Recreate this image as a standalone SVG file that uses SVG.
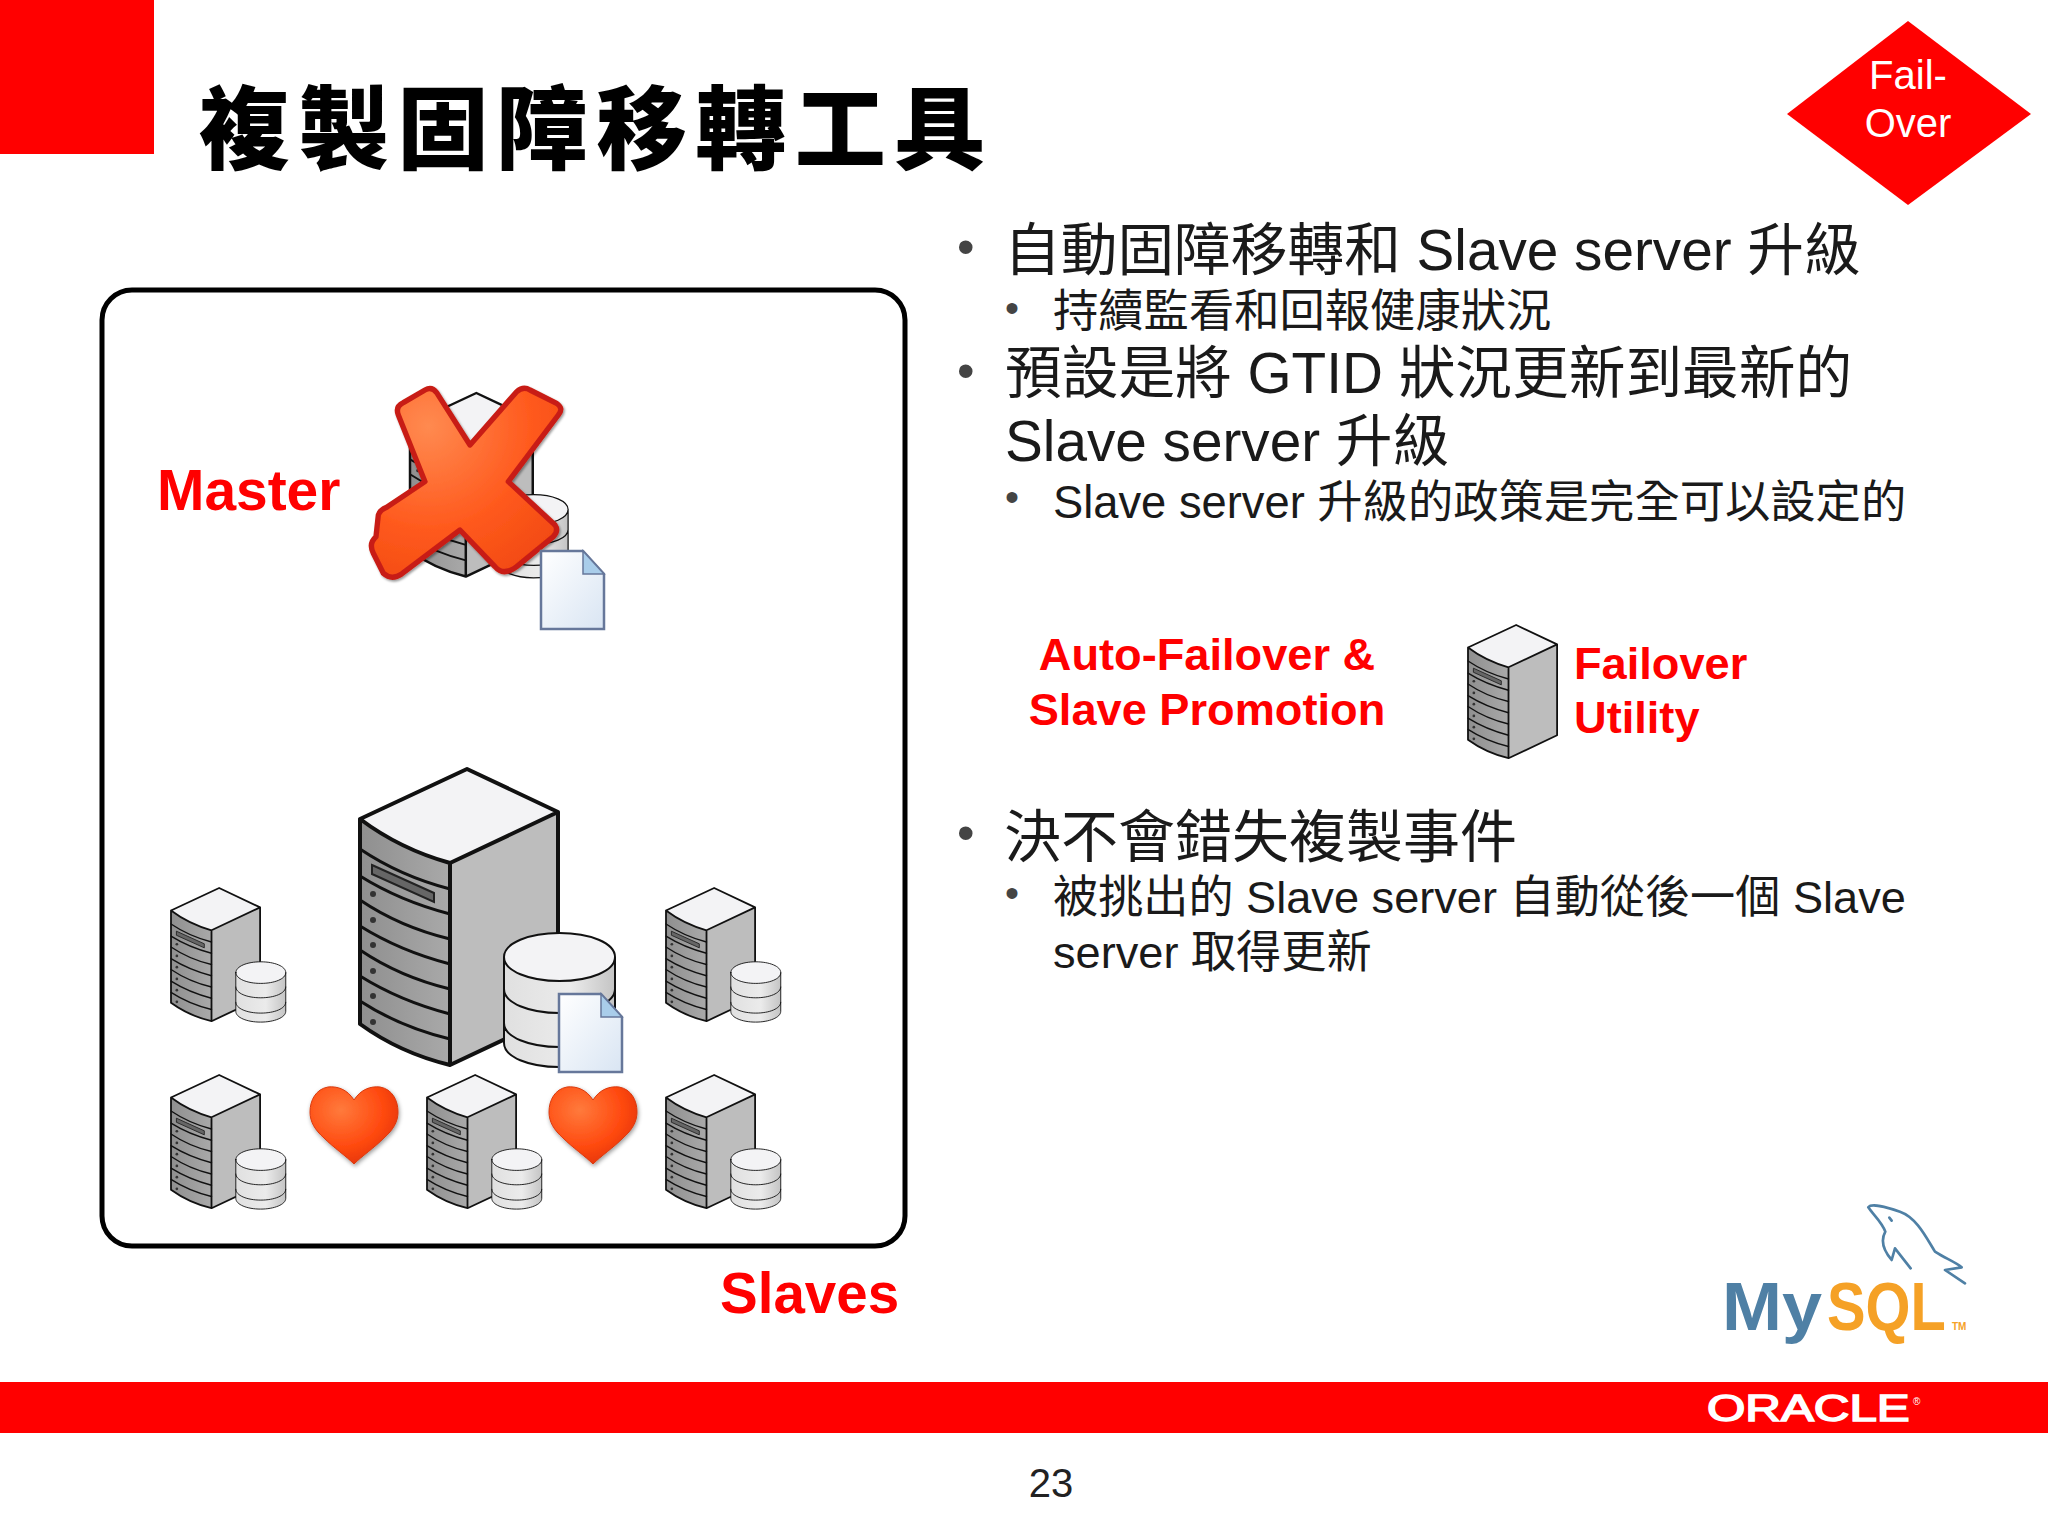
<svg xmlns="http://www.w3.org/2000/svg" width="2048" height="1536" viewBox="0 0 2048 1536">
<style>
text{font-family:"Liberation Sans","Noto Sans CJK TC",sans-serif}
.title{font-family:"Noto Sans CJK TC",sans-serif;font-weight:900;font-size:91px;letter-spacing:8.300px;fill:#000}
.b1{font-size:56.700px;fill:#1a1a1a}
.b2{font-size:45.300px;fill:#1a1a1a}
.d1{font-size:50px;fill:#444}
.d2{font-size:40px;fill:#444}
.red{font-weight:700;fill:#f00}
.blk{fill:none;stroke:#111;stroke-linejoin:round;stroke-linecap:round}
</style>
<defs>
<linearGradient id="gf" x1="0" x2="1" y1="0" y2="0"><stop offset="0" stop-color="#8f8f8f"/><stop offset="1" stop-color="#a9a9a9"/></linearGradient>
<linearGradient id="gd" x1="0" x2="1" y1="0" y2="0"><stop offset="0" stop-color="#e0e0e0"/><stop offset=".6" stop-color="#ebebeb"/><stop offset="1" stop-color="#c4c4c4"/></linearGradient>
<linearGradient id="gp" x1="0" x2="1" y1="0" y2="1"><stop offset="0" stop-color="#fff"/><stop offset="1" stop-color="#d9e5f3"/></linearGradient>
<radialGradient id="gh" cx=".35" cy=".3" r=".8"><stop offset="0" stop-color="#ff7a3c"/><stop offset=".6" stop-color="#ff4a10"/><stop offset="1" stop-color="#e03005"/></radialGradient>
<radialGradient id="gx" cx=".3" cy=".2" r=".9"><stop offset="0" stop-color="#ff8a50"/><stop offset=".6" stop-color="#ff5a1e"/><stop offset="1" stop-color="#f24a10"/></radialGradient>
<filter id="sh" x="-20%" y="-20%" width="150%" height="150%"><feDropShadow dx="4" dy="5" stdDeviation="3" flood-color="#000" flood-opacity=".4"/></filter>
<filter id="sh2" x="-20%" y="-20%" width="140%" height="140%"><feDropShadow dx="1" dy="2" stdDeviation="2" flood-color="#000" flood-opacity=".4"/></filter>
<g id="srv">
<path d="M90 94L198 43V245L90 296Z" fill="#bdbdbd"/>
<path d="M0 50Q40 80 90 94V296Q40 284 0 255Z" fill="url(#gf)"/>
<path d="M107 0L0 50Q40 80 90 94L198 43Z" fill="#f3f3f5"/>
<path d="M12 96L74 124V133L12 105Z" fill="#666" stroke="#222" stroke-width="2"/>
<g class="blk" stroke-width="3">
<path d="M0 80Q40 107 90 120M0 107Q40 132 90 145M0 131Q40 158 90 170M0 157Q40 182 90 195M0 181Q40 208 90 220M0 207Q40 232 90 245M0 232Q40 258 90 270"/>
</g>
<g fill="#333"><circle cx="13" cy="125" r="3"/><circle cx="13" cy="151" r="3"/><circle cx="13" cy="176" r="3"/><circle cx="13" cy="202" r="3"/><circle cx="13" cy="227" r="3"/><circle cx="13" cy="253" r="3"/></g>
<path class="blk" stroke-width="4" d="M107 0L0 50V255Q40 284 90 296L198 245V43ZM0 50Q40 80 90 94L198 43M90 94V296"/>
</g>
<g id="db">
<path d="M0 24V110C0 124 25 134 55 134S111 124 111 110V24Z" fill="url(#gd)"/>
<ellipse cx="55.500" cy="24" rx="55.500" ry="24" fill="#f3f3f5"/>
<path class="blk" stroke-width="2" d="M0 24V110C0 124 25 134 55 134S111 124 111 110V24M0 24C0 10 25 0 55.500 0S111 10 111 24S86 48 55.500 48S0 38 0 24ZM0 56C0 70 25 80 55.500 80S111 70 111 56M0 90C0 104 25 114 55.500 114S111 104 111 90"/>
</g>
<g id="doc">
<path d="M1 1H43L64 24V79H1Z" fill="url(#gp)" stroke="#66779a" stroke-width="2.500"/>
<path d="M43 1V24H64Z" fill="#a9cdea" stroke="#66779a" stroke-width="1.500"/>
</g>
<g id="ss"><use href="#srv"/><use href="#db" transform="translate(144 164)"/></g>
<path id="heart" d="M44 14C37 3 27 0 18 1C6 3 0 14 0 26C0 36 5 44 14 52C24 62 36 70 44 78C52 70 64 62 74 52C83 44 88 36 88 26C88 14 82 3 70 1C61 0 51 3 44 14Z" fill="url(#gh)" stroke="#d83a10" stroke-width="1" filter="url(#sh2)"/>
</defs>
<rect width="2048" height="1536" fill="#fff"/>
<g id="corner"><rect width="154" height="154" fill="#f00"/></g>
<g id="title"><text class="title" x="199" y="162">複製固障移轉工具</text></g>
<g id="failover-badge">
<path d="M1908 21L2031 114L1908 205L1787 114Z" fill="#f00"/>
<text x="1908" y="89" text-anchor="middle" font-size="40" fill="#fff">Fail-</text>
<text x="1908" y="137" text-anchor="middle" font-size="40" fill="#fff">Over</text>
</g>
<g id="cluster-box"><rect x="102" y="290" width="803" height="956" rx="30" fill="#fff" stroke="#000" stroke-width="5"/></g>
<g id="master">
<text class="red" x="157" y="510" font-size="56.900">Master</text>
<use href="#ss" transform="translate(410 393) scale(.62)"/>
<path transform="translate(360 370) scale(.3333)" d="M115 135Q105 110 130 98L195 60Q215 48 230 68L330 225L470 65Q490 48 510 60L590 100Q612 115 595 135L445 335L585 465Q597 482 580 500L470 590Q430 620 405 590L300 480L125 612Q95 632 70 610L40 550Q25 520 48 500L55 435Q60 420 80 412L195 335Z" fill="url(#gx)" stroke="#c81e14" stroke-width="16" stroke-linejoin="round" filter="url(#sh)"/>
<use href="#doc" transform="translate(540 550)"/>
</g>
<g id="primary-slave">
<use href="#ss" transform="translate(360 769)"/>
<use href="#doc" transform="translate(558 993)"/>
</g>
<g id="slave-1"><use href="#ss" transform="translate(171 888) scale(.45)"/></g>
<g id="slave-2"><use href="#ss" transform="translate(666 888) scale(.45)"/></g>
<g id="slave-3"><use href="#ss" transform="translate(171 1075) scale(.45)"/></g>
<g id="slave-4"><use href="#ss" transform="translate(427 1075) scale(.45)"/></g>
<g id="slave-5"><use href="#ss" transform="translate(666 1075) scale(.45)"/></g>
<g id="heart-1"><use href="#heart" transform="translate(310 1086)"/></g>
<g id="heart-2"><use href="#heart" transform="translate(549 1086)"/></g>
<g id="slaves-label"><text class="red" x="720" y="1313" font-size="56.500">Slaves</text></g>
<g id="bullets">
<text class="d1" x="957" y="264">•</text>
<text class="b1" x="1004" y="270">自動固障移轉和 Slave server 升級</text>
<text class="d2" x="1005" y="322">•</text>
<text class="b2" x="1053" y="327">持續監看和回報健康狀況</text>
<text class="d1" x="957" y="388">•</text>
<text class="b1" x="1005" y="393">預設是將 GTID 狀況更新到最新的</text>
<text class="b1" x="1005" y="461">Slave server 升級</text>
<text class="d2" x="1005" y="511">•</text>
<text class="b2" x="1053" y="518">Slave server 升級的政策是完全可以設定的</text>
<text class="d1" x="957" y="850">•</text>
<text class="b1" x="1004" y="857" style="font-size:57px">決不會錯失複製事件</text>
<text class="d2" x="1005" y="907">•</text>
<text class="b2" x="1053" y="913" style="font-size:45.150px">被挑出的 Slave server 自動從後一個 Slave</text>
<text class="b2" x="1053" y="968" style="font-size:45.150px">server 取得更新</text>
</g>
<g id="auto-failover">
<text class="red" x="1207" y="670" text-anchor="middle" font-size="45.200">Auto-Failover &amp;</text>
<text class="red" x="1207" y="725" text-anchor="middle" font-size="45.200">Slave Promotion</text>
</g>
<g id="failover-utility">
<use href="#srv" transform="translate(1468 625) scale(.45)"/>
<text class="red" x="1574" y="679" font-size="45.200">Failover</text>
<text class="red" x="1574" y="733" font-size="45.200">Utility</text>
</g>
<g id="mysql-logo">
<text transform="translate(1722 1330) scale(1.06 1)" font-size="68" font-weight="700" fill="#4f80a5">My</text>
<text transform="translate(1827 1330) scale(.85 1)" font-size="68" font-weight="700" fill="#f5a126">SQL</text>
<text x="1952" y="1330" font-size="10" font-weight="700" fill="#f5a126">TM</text>
<g transform="translate(1700 1180) scale(.3333)" fill="none" stroke="#4f80a5" stroke-width="8" stroke-linejoin="round" stroke-linecap="round">
<path d="M505 82C515 68 560 82 600 95C650 112 680 175 705 215C735 235 765 245 785 262L735 270L795 310M505 82C520 105 545 125 556 155C545 175 545 205 575 240L585 205L632 265"/>
<path d="M568 113L575 122"/>
</g>
</g>
<g id="footer">
<rect y="1382" width="2048" height="51" fill="#f00"/>
<text transform="translate(1707 1421) scale(1.37 1)" font-size="36" fill="#fff" stroke="#fff" stroke-width="1.500">ORACLE</text>
<text x="1913" y="1405" font-size="10" fill="#fff">®</text>
<text x="1051" y="1497" text-anchor="middle" font-size="40" fill="#222">23</text>
</g>
</svg>
